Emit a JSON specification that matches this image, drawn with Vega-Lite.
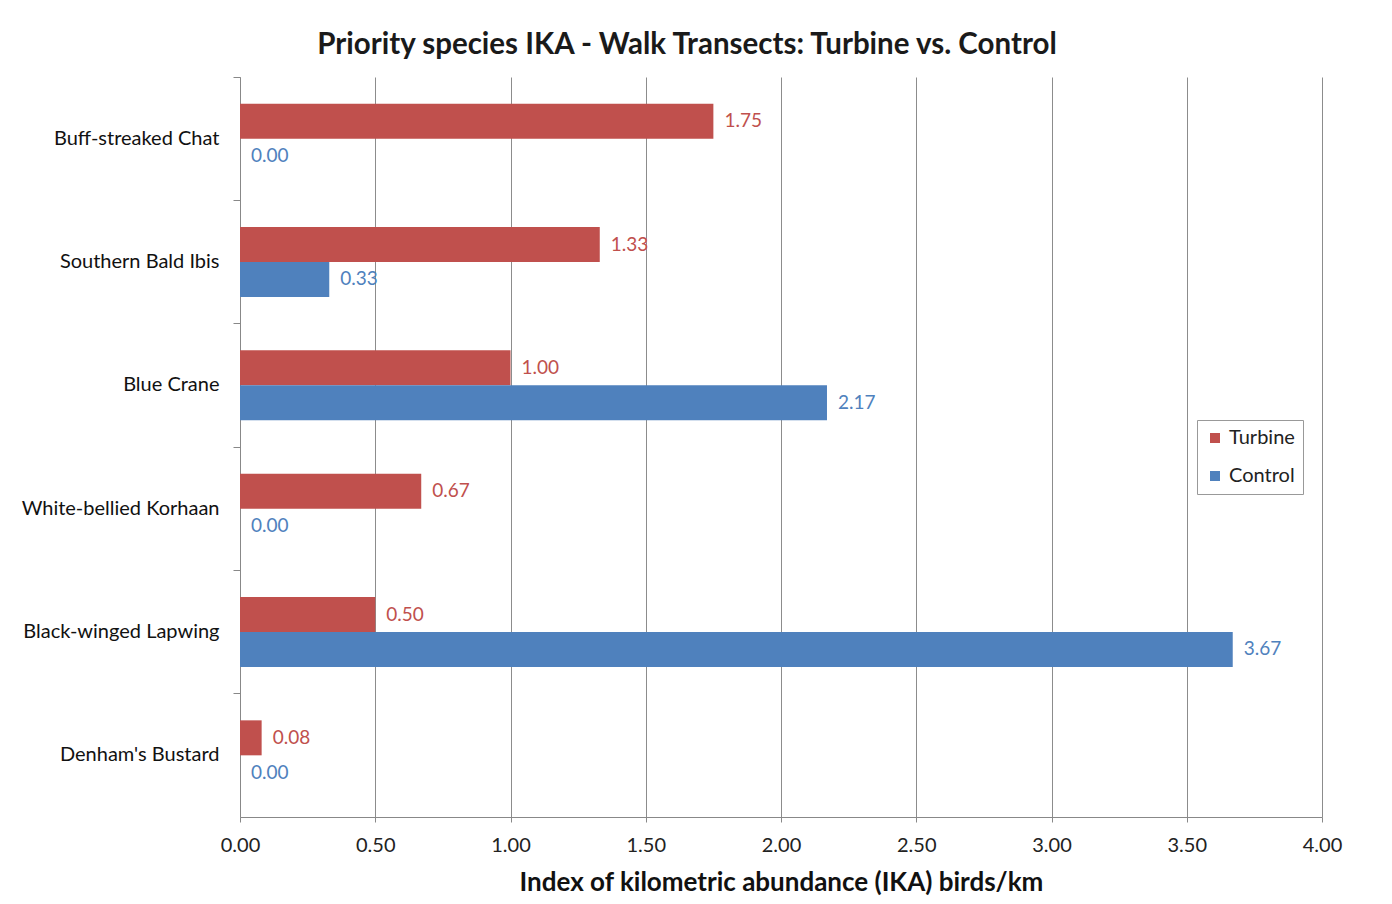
{
  "$schema": "https://vega.github.io/schema/vega-lite/v6.json",
  "width": 1082,
  "height": 740,
  "autosize": {"type": "none"},
  "padding": {"left": 240, "top": 77, "right": 70, "bottom": 87},
  "background": "white",
  "config": {"view": {"stroke": null}, "font": "Lato"},
  "title": {
    "text": "Priority species IKA - Walk Transects: Turbine vs. Control",
    "font": "Lato",
    "fontSize": 29.5,
    "fontWeight": "bold",
    "color": "#1a1a1a",
    "anchor": "middle",
    "frame": "group",
    "dx": -94,
    "offset": 16
  },
  "data": {
    "values": [
      {"species": "Buff-streaked Chat", "series": "Turbine", "ika": 1.75},
      {"species": "Buff-streaked Chat", "series": "Control", "ika": 0.0},
      {"species": "Southern Bald Ibis", "series": "Turbine", "ika": 1.33},
      {"species": "Southern Bald Ibis", "series": "Control", "ika": 0.33},
      {"species": "Blue Crane", "series": "Turbine", "ika": 1.0},
      {"species": "Blue Crane", "series": "Control", "ika": 2.17},
      {"species": "White-bellied Korhaan", "series": "Turbine", "ika": 0.67},
      {"species": "White-bellied Korhaan", "series": "Control", "ika": 0.0},
      {"species": "Black-winged Lapwing", "series": "Turbine", "ika": 0.5},
      {"species": "Black-winged Lapwing", "series": "Control", "ika": 3.67},
      {"species": "Denham's Bustard", "series": "Turbine", "ika": 0.08},
      {"species": "Denham's Bustard", "series": "Control", "ika": 0.0}
    ]
  },
  "encoding": {
    "y": {
      "field": "species",
      "type": "nominal",
      "sort": ["Buff-streaked Chat", "Southern Bald Ibis", "Blue Crane", "White-bellied Korhaan", "Black-winged Lapwing", "Denham's Bustard"],
      "scale": {"paddingInner": 0, "paddingOuter": 0},
      "axis": {
        "title": null,
        "grid": false,
        "bandPosition": 0,
        "domainColor": "#888888",
        "tickColor": "#888888",
        "tickSize": 7,
        "labelPadding": 14,
        "labelLimit": 400,
        "labelFont": "Lato",
        "labelFontSize": 20,
        "labelColor": "#111111"
      }
    },
    "yOffset": {
      "field": "series",
      "type": "nominal",
      "sort": ["Turbine", "Control"],
      "scale": {"paddingInner": 0, "paddingOuter": 0.762}
    },
    "x": {
      "field": "ika",
      "type": "quantitative",
      "scale": {"domain": [0, 4], "nice": false, "zero": true},
      "axis": {
        "title": "Index of kilometric abundance (IKA) birds/km",
        "titleFont": "Lato",
        "titleFontSize": 26,
        "titleFontWeight": "bold",
        "titleColor": "#111111",
        "titlePadding": 14,
        "values": [0, 0.5, 1, 1.5, 2, 2.5, 3, 3.5, 4],
        "format": ".2f",
        "grid": true,
        "gridColor": "#8c8c8c",
        "domainColor": "#888888",
        "tickColor": "#888888",
        "tickSize": 5,
        "labelPadding": 13,
        "labelFlush": false,
        "labelFont": "Lato",
        "labelFontSize": 20,
        "labelColor": "#222222"
      }
    },
    "color": {
      "field": "series",
      "type": "nominal",
      "scale": {"domain": ["Turbine", "Control"], "range": ["#C0504D", "#4F81BD"]},
      "legend": {
        "title": null,
        "orient": "none",
        "legendX": 957,
        "legendY": 343,
        "padding": 8,
        "strokeColor": "#999999",
        "fillColor": "white",
        "symbolType": "square",
        "symbolSize": 100,
        "symbolStrokeWidth": 0,
        "labelFont": "Lato",
        "labelFontSize": 20,
        "labelColor": "#222222",
        "labelOffset": 4,
        "rowPadding": 18
      }
    }
  },
  "layer": [
    {"mark": {"type": "bar"}},
    {
      "mark": {"type": "text", "align": "left", "baseline": "middle", "dx": 11, "fontSize": 19, "font": "Lato"},
      "encoding": {
        "text": {"field": "ika", "type": "quantitative", "format": ".2f"}
      }
    }
  ]
}
